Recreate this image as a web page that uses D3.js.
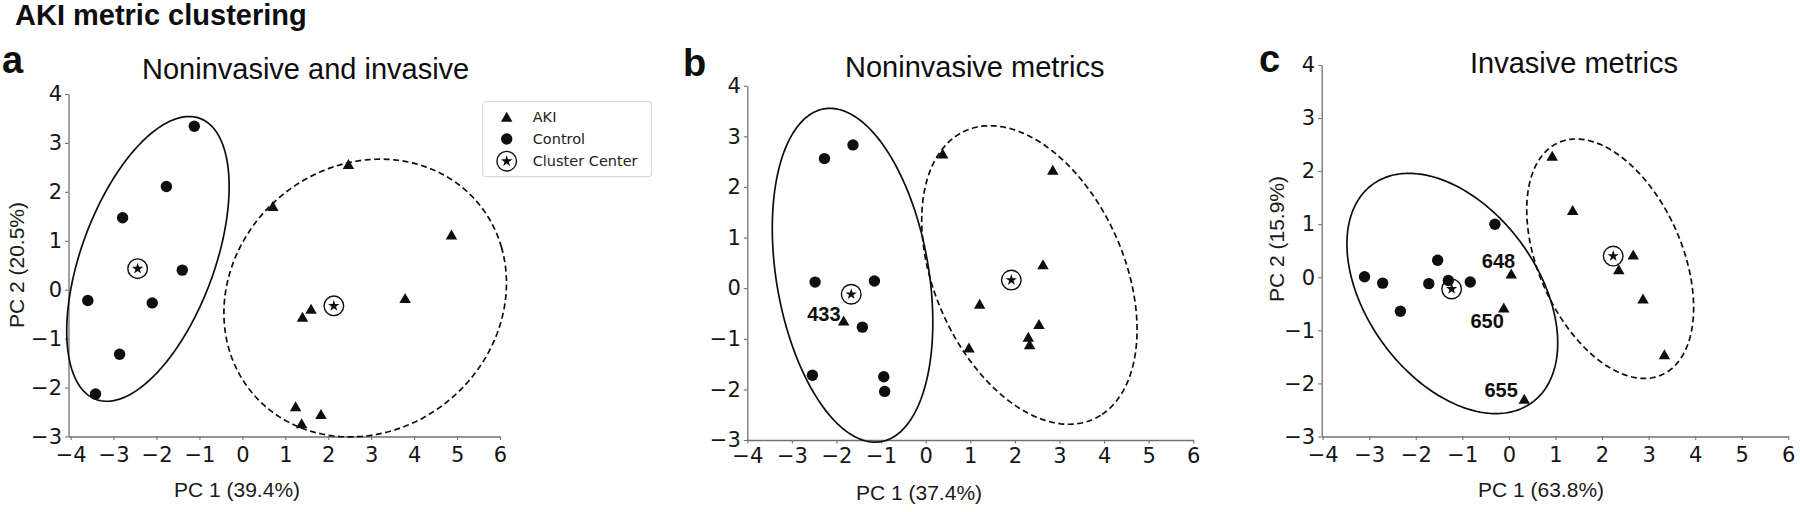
<!DOCTYPE html>
<html>
<head>
<meta charset="utf-8">
<script src="https://cdn.jsdelivr.net/npm/d3@7"></script>
<style>
  body { margin: 0; background: #fff; }
  svg { display: block; }
</style>
</head>
<body>
<svg id="chart" width="1800" height="512"></svg>
<script>
// ---------------- DATA ----------------
const figureTitle = "AKI metric clustering";
const xTicks = [-4, -3, -2, -1, 0, 1, 2, 3, 4, 5, 6];
const yTicks = [-3, -2, -1, 0, 1, 2, 3, 4];
const legendLabels = ["AKI", "Control", "Cluster Center"];

const panelLetters = ["a", "b", "c"];
const panelTitles = ["Noninvasive and invasive", "Noninvasive metrics", "Invasive metrics"];
const xLabels = ["PC 1 (39.4%)", "PC 1 (37.4%)", "PC 1 (63.8%)"];
const yLabels = ["PC 2 (20.5%)", null, "PC 2 (15.9%)"];

// Panel a: Noninvasive and invasive
const aControl = [[-1.12, 3.34], [-1.77, 2.11], [-2.79, 1.47], [-1.40, 0.40], [-3.60, -0.22], [-2.10, -0.27], [-2.86, -1.32], [-3.42, -2.13]];
const aAKI = [[2.47, 2.57], [0.71, 1.71], [4.87, 1.13], [3.79, -0.17], [1.60, -0.39], [1.40, -0.55], [1.24, -2.38], [1.83, -2.54], [1.38, -2.73]];
const aCenters = [[-2.44, 0.43], [2.13, -0.33]];
// ellipse: [cx, cy, semi-axis a, semi-axis b, angle deg]
const aEllipseControl = [-2.20, 0.63, 3.12, 1.52, 65.6];
const aEllipseAKI = [2.86, -0.17, 3.34, 2.78, 18];

// Panel b: Noninvasive metrics
const bControl = [[-1.63, 2.83], [-2.27, 2.56], [-2.48, 0.12], [-1.15, 0.14], [-1.42, -0.77], [-2.54, -1.72], [-0.94, -1.75], [-0.92, -2.04]];
const bAKI = [[0.38, 2.66], [2.85, 2.34], [2.63, 0.47], [1.21, -0.31], [2.54, -0.71], [2.30, -0.96], [2.33, -1.11], [0.97, -1.17], [-1.84, -0.64]];
const bCenters = [[-1.67, -0.12], [1.92, 0.16]];
const bEllipseControl = [-1.64, 0.255, 3.35, 1.70, -78.2];
const bEllipseAKI = [2.325, 0.26, 3.20, 2.07, -59.4];
const bPointLabels = [{ idx: 8, text: "433" }];

// Panel c: Invasive metrics
const cControl = [[-3.10, 0.01], [-2.71, -0.11], [-2.33, -0.64], [-1.53, 0.32], [-1.72, -0.12], [-1.30, -0.06], [-0.83, -0.09], [-0.30, 1.00]];
const cAKI = [[0.93, 2.29], [1.37, 1.27], [2.67, 0.43], [2.36, 0.15], [2.88, -0.40], [3.34, -1.45], [0.05, 0.07], [-0.11, -0.57], [0.33, -2.29]];
const cCenters = [[-1.23, -0.22], [2.24, 0.40]];
const cEllipseControl = [-1.215, -0.305, 2.69, 1.735, -45];
const cEllipseAKI = [2.175, 0.35, 2.46, 1.50, -59.8];
const cPointLabels = [{ idx: 6, text: "648" }, { idx: 7, text: "650" }, { idx: 8, text: "655" }];

// ---------------- LAYOUT ----------------
const SANS = "'Liberation Sans', Arial, Helvetica, sans-serif";
const DEJAVU = "'DejaVu Sans', sans-serif";
const INK = "#0e0e0e";
const AXIS = "#707070";

const layouts = [
  { xMin: -4.05, left: 68.5, right: 500, top: 94, bottom: 436.5, xTickBase: 25.3,
    letter: [2, 72.5], title: [142, 79], xLab: [174, 496.7], yLab: [24, 265] },
  { xMin: -4.0, left: 747.3, right: 1193.3, top: 85.7, bottom: 440, xTickBase: 22.7,
    letter: [683, 75.5], title: [845, 77], xLab: [856, 500], yLab: null },
  { xMin: -4.02, left: 1321.7, right: 1788.3, top: 65, bottom: 436.5, xTickBase: 25.3,
    letter: [1259, 72], title: [1470, 73], xLab: [1478, 497.3], yLab: [1284, 239] }
];
// label offsets (px) relative to the labelled point: [dx of text end, dy of baseline]
const labelOffsets = { "433": [-3, 0.5], "648": [4, -5.5], "650": [0, 20], "655": [-6.5, -2] };

const panels = [
  { control: aControl, aki: aAKI, centers: aCenters, ellipses: [aEllipseControl, aEllipseAKI], labels: [] },
  { control: bControl, aki: bAKI, centers: bCenters, ellipses: [bEllipseControl, bEllipseAKI], labels: bPointLabels },
  { control: cControl, aki: cAKI, centers: cCenters, ellipses: [cEllipseControl, cEllipseAKI], labels: cPointLabels }
];

const svg = d3.select("#chart");
const fmt = d => (d < 0 ? "\u2212" + Math.abs(d) : String(d));

const triW = 11.5, triH = 10;
const dotR = 5.7;
const triPath = `M0,${-triH / 2}L${triW / 2},${triH / 2}L${-triW / 2},${triH / 2}Z`;
const starPath = d3.symbol().type(d3.symbolStar).size(40)();

// figure title
svg.append("text").attr("x", 15).attr("y", 25)
  .attr("font-family", SANS).attr("font-weight", "bold").attr("font-size", 29)
  .attr("fill", INK).text(figureTitle);

panels.forEach((p, i) => {
  const L = layouts[i];
  const x = d3.scaleLinear().domain([L.xMin, 6]).range([L.left, L.right]);
  const y = d3.scaleLinear().domain([-3, 4]).range([L.bottom, L.top]);
  const g = svg.append("g");

  // axes
  const gx = g.append("g").attr("transform", `translate(0,${L.bottom})`)
    .call(d3.axisBottom(x).tickValues(xTicks).tickSize(3.5).tickSizeOuter(0).tickFormat(fmt));
  gx.selectAll("text").attr("y", L.xTickBase).attr("dy", 0);
  const gy = g.append("g").attr("transform", `translate(${L.left},0)`)
    .call(d3.axisLeft(y).tickValues(yTicks).tickSize(3.5).tickPadding(3).tickSizeOuter(0).tickFormat(fmt));
  [gx, gy].forEach(ax => {
    ax.attr("font-family", DEJAVU).attr("font-size", 21);
    ax.select(".domain").attr("stroke", AXIS).attr("stroke-width", 1.3);
    ax.selectAll(".tick line").attr("stroke", AXIS).attr("stroke-width", 1.1);
    ax.selectAll(".tick text").attr("fill", "#151515");
  });

  // ellipses
  p.ellipses.forEach((e, k) => {
    const [cx, cy, ea, eb, ang] = e;
    const th = ang * Math.PI / 180;
    const pts = d3.range(0, 360, 1.5).map(deg => {
      const t = deg * Math.PI / 180;
      return [cx + ea * Math.cos(th) * Math.cos(t) - eb * Math.sin(th) * Math.sin(t),
              cy + ea * Math.sin(th) * Math.cos(t) + eb * Math.cos(th) * Math.sin(t)];
    });
    g.append("path")
      .attr("d", d3.line().x(d => x(d[0])).y(d => y(d[1])).curve(d3.curveLinearClosed)(pts))
      .attr("fill", "none").attr("stroke", INK).attr("stroke-width", 1.7)
      .attr("stroke-dasharray", k === 1 ? "6,3.5" : null);
  });

  // control points
  g.selectAll(".ctrl").data(p.control).join("circle")
    .attr("cx", d => x(d[0])).attr("cy", d => y(d[1])).attr("r", dotR).attr("fill", INK);
  // AKI points
  g.selectAll(".aki").data(p.aki).join("path")
    .attr("d", triPath).attr("transform", d => `translate(${x(d[0])},${y(d[1])})`).attr("fill", INK);
  // cluster centers
  const cc = g.selectAll(".cc").data(p.centers).join("g")
    .attr("transform", d => `translate(${x(d[0])},${y(d[1])})`);
  cc.append("circle").attr("r", 9.8).attr("fill", "none").attr("stroke", INK).attr("stroke-width", 1.4);
  cc.append("path").attr("d", starPath).attr("fill", INK);

  // point labels
  p.labels.forEach(lb => {
    const pt = p.aki[lb.idx];
    const off = labelOffsets[lb.text];
    g.append("text").attr("x", x(pt[0]) + off[0]).attr("y", y(pt[1]) + off[1])
      .attr("text-anchor", "end").attr("font-family", SANS).attr("font-weight", "bold")
      .attr("font-size", 20).attr("fill", INK).text(lb.text);
  });

  // panel letter
  svg.append("text").attr("x", L.letter[0]).attr("y", L.letter[1])
    .attr("font-family", SANS).attr("font-weight", "bold").attr("font-size", 38)
    .attr("fill", INK).text(panelLetters[i]);
  // panel title
  svg.append("text").attr("x", L.title[0]).attr("y", L.title[1])
    .attr("font-family", SANS).attr("font-size", 29).attr("fill", INK).text(panelTitles[i]);
  // x label
  svg.append("text").attr("x", L.xLab[0]).attr("y", L.xLab[1])
    .attr("font-family", SANS).attr("font-size", 21).attr("fill", "#1a1a1a").text(xLabels[i]);
  // y label
  if (yLabels[i]) {
    svg.append("text").attr("transform", `translate(${L.yLab[0]},${L.yLab[1]}) rotate(-90)`)
      .attr("text-anchor", "middle").attr("font-family", SANS).attr("font-size", 21)
      .attr("fill", "#1a1a1a").text(yLabels[i]);
  }
});

// legend
const lg = svg.append("g").attr("transform", "translate(482.7,101.7)");
lg.append("rect").attr("width", 169).attr("height", 75).attr("rx", 3)
  .attr("fill", "#fff").attr("stroke", "#d4d4d4").attr("stroke-width", 1);
const rowY = d3.scalePoint().domain(legendLabels).range([15, 59.5]);
legendLabels.forEach((lab, k) => {
  const ry = rowY(lab);
  const mk = lg.append("g").attr("transform", `translate(24,${ry})`);
  if (k === 0) mk.append("path").attr("d", triPath).attr("fill", INK);
  else if (k === 1) mk.append("circle").attr("r", dotR).attr("fill", INK);
  else {
    mk.append("circle").attr("r", 9.8).attr("fill", "none").attr("stroke", INK).attr("stroke-width", 1.4);
    mk.append("path").attr("d", starPath).attr("fill", INK);
  }
  lg.append("text").attr("x", 50).attr("y", ry).attr("dy", "0.36em")
    .attr("font-family", DEJAVU).attr("font-size", 14.5).attr("fill", "#222").text(lab);
});
</script>
</body>
</html>
